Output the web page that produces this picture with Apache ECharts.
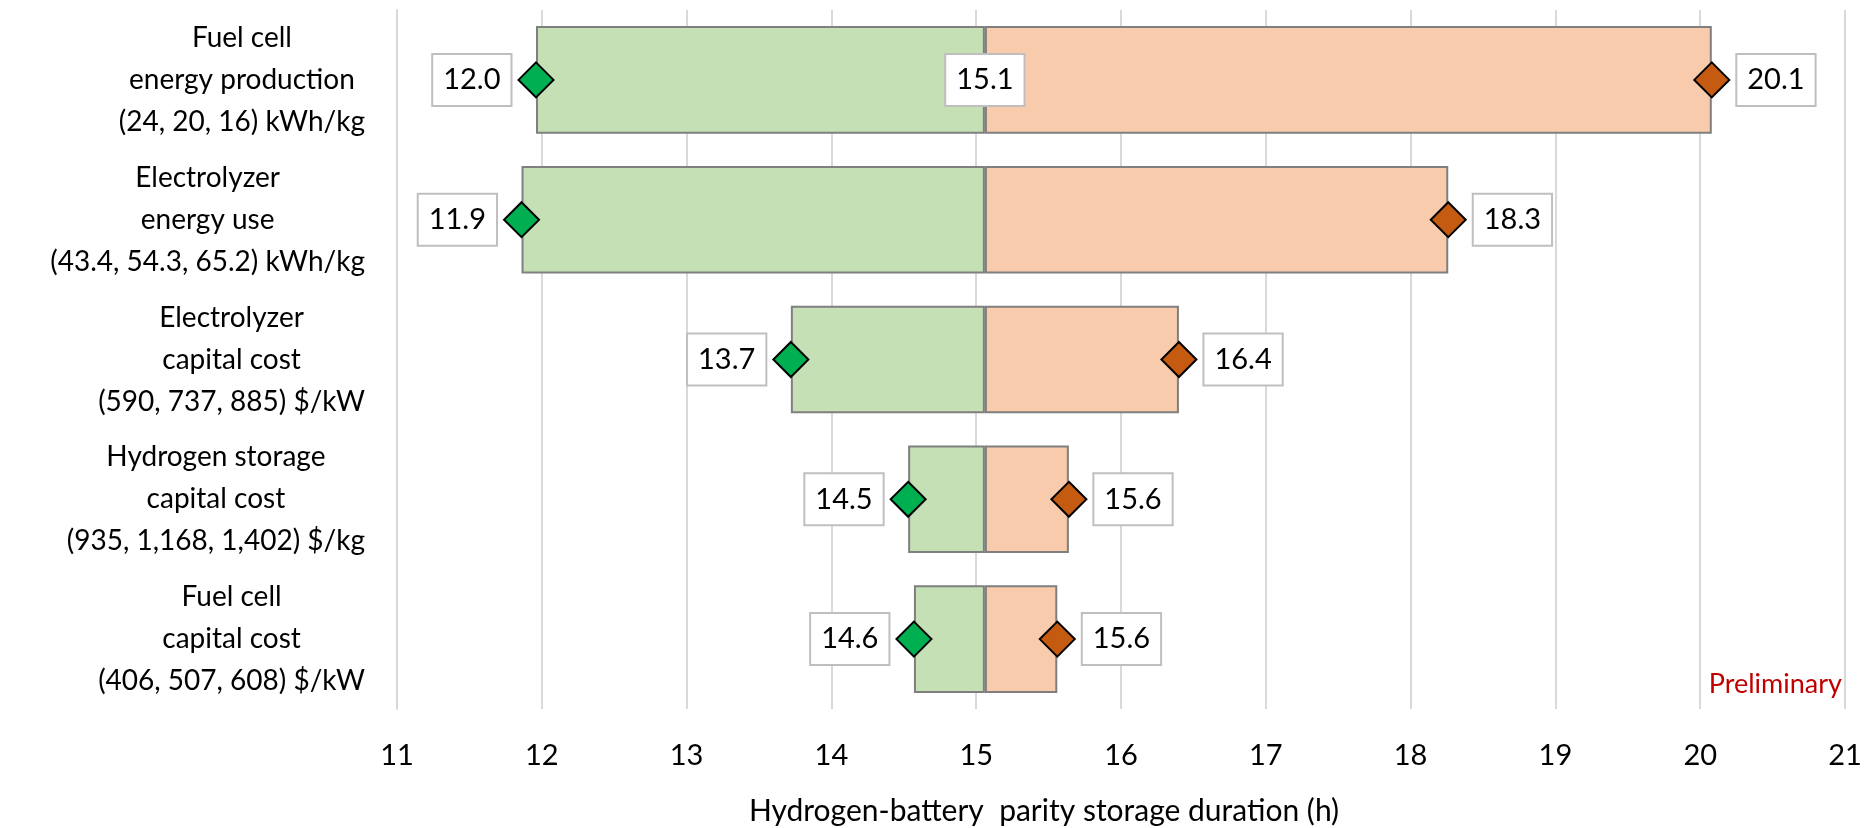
<!DOCTYPE html>
<html><head><meta charset="utf-8">
<script src="https://cdn.jsdelivr.net/npm/echarts@6/dist/echarts.min.js"></script>
<style>html,body{margin:0;padding:0;background:#fff}#c{width:1868px;height:828px}</style>
</head><body><div id="c"></div>
<script>
const categories = [
  'Fuel cell\nenergy production\n(24, 20, 16) kWh/kg',
  'Electrolyzer\nenergy use\n(43.4, 54.3, 65.2) kWh/kg',
  'Electrolyzer\ncapital cost\n(590, 737, 885) $/kW',
  'Hydrogen storage\ncapital cost\n(935, 1,168, 1,402) $/kg',
  'Fuel cell\ncapital cost\n(406, 507, 608) $/kW'
];
const baseValue = 15.06;
const lowValues = [11.96, 11.86, 13.72, 14.53, 14.57];
const highValues = [20.08, 18.26, 16.40, 15.64, 15.56];
const xAxisMin = 11, xAxisMax = 21, xAxisStep = 1;
const axisTitle = 'Hydrogen-battery  parity storage duration (h)';
const noteText = 'Preliminary';

const FONT = 'Lato';
const boxLabel = {
  show: true, color: '#000', fontFamily: FONT, fontSize: 29, lineHeight: 30,
  backgroundColor: '#fff', borderColor: '#BFBFBF', borderWidth: 2, padding: [10, 10, 10, 10]
};

const chart = echarts.init(document.getElementById('c'), null, {renderer: 'canvas'});
chart.setOption({
  animation: false,
  grid: {left: 397, right: 23, top: 10, bottom: 119, containLabel: false},
  xAxis: {
    type: 'value', min: xAxisMin, max: xAxisMax, interval: xAxisStep,
    axisLine: {show: false}, axisTick: {show: false},
    splitLine: {show: true, lineStyle: {color: '#D9D9D9', width: 2}},
    axisLabel: {color: '#000', fontFamily: FONT, fontSize: 29, margin: 32}
  },
  yAxis: {
    type: 'category', data: categories, inverse: true,
    axisLine: {show: true, lineStyle: {color: '#D9D9D9', width: 2}},
    axisTick: {show: false},
    axisLabel: {
      margin: 32, align: 'right',
      formatter: v => v.split('\n').map(l => '{c|' + l + '}').join('\n'),
      rich: {c: {align: 'center', color: '#000', fontFamily: FONT, fontSize: 28, lineHeight: 42}}
    }
  },
  series: [
    {type: 'bar', stack: 's', barCategoryGap: '23%', silent: true,
     itemStyle: {color: 'rgba(0,0,0,0)'}, data: lowValues},
    {type: 'bar', stack: 's', itemStyle: {color: '#C5E0B4', borderColor: '#7F7F7F', borderWidth: 2},
     data: lowValues.map(v => +(baseValue - v).toFixed(4))},
    {type: 'bar', stack: 's', itemStyle: {color: '#F8CBAD', borderColor: '#7F7F7F', borderWidth: 2},
     data: highValues.map(v => +(v - baseValue).toFixed(4))},
    {type: 'scatter', symbol: 'diamond', symbolSize: [35, 35], z: 5,
     itemStyle: {color: '#00B050', borderColor: '#000', borderWidth: 2, opacity: 1},
     label: Object.assign({}, boxLabel, {position: 'left', distance: 7, formatter: p => p.value[0].toFixed(1)}),
     data: lowValues.map((v, i) => [v, i])},
    {type: 'scatter', symbol: 'diamond', symbolSize: [35, 35], z: 5,
     itemStyle: {color: '#C55A11', borderColor: '#000', borderWidth: 2, opacity: 1},
     label: Object.assign({}, boxLabel, {position: 'right', distance: 7, formatter: p => p.value[0].toFixed(1)}),
     data: highValues.map((v, i) => [v, i])},
    {type: 'scatter', symbol: 'circle', symbolSize: 2, z: 6,
     itemStyle: {color: 'rgba(0,0,0,0)', opacity: 1},
     label: Object.assign({}, boxLabel, {position: 'inside', formatter: p => p.value[0].toFixed(1)}),
     data: [[baseValue, 0]]}
  ],
  graphic: [
    {type: 'text', x: 1044, y: 811, style: {text: axisTitle, fill: '#000', font: '30px Lato', textAlign: 'center', textVerticalAlign: 'middle'}},
    {type: 'text', x: 1842, y: 684, style: {text: noteText, fill: '#C00000', font: '27px Lato', textAlign: 'right', textVerticalAlign: 'middle'}}
  ]
});
</script></body></html>
